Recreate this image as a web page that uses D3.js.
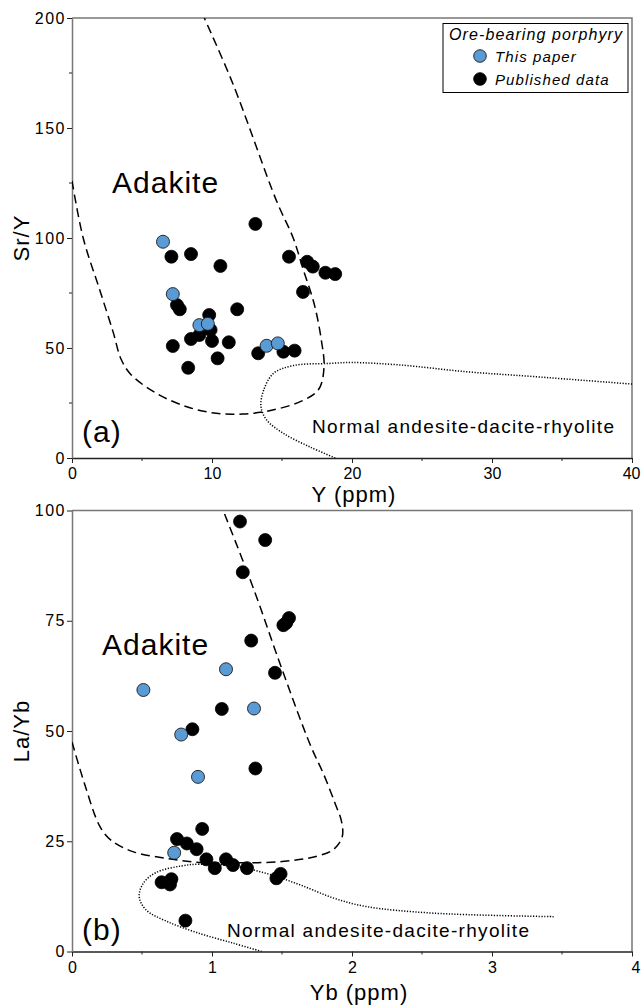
<!DOCTYPE html>
<html>
<head>
<meta charset="utf-8">
<script src="https://cdn.jsdelivr.net/npm/d3@7"></script>
<style>
  body { margin: 0; background: #fff; }
  svg text { font-family: "Liberation Sans", Arial, sans-serif; fill: #000; }
</style>
</head>
<body>
<svg id="chart" width="641" height="1005"></svg>
<script>
// ---- data: panel (a) Sr/Y vs Y ----
const thisPaperA = [
  [6.5, 98.3], [7.2, 74.5], [9.1, 60.4], [9.7, 61.0], [13.9, 51.0], [14.7, 52.1]
];
const publishedA = [
  [13.1, 106.4], [7.1, 91.5], [8.5, 92.7], [10.6, 87.3], [15.5, 91.5], [16.8, 89.2],
  [17.2, 87.0], [18.1, 84.2], [18.8, 83.6], [16.5, 75.5], [7.5, 69.5], [7.7, 67.6],
  [9.8, 65.0], [11.8, 67.6], [9.9, 58.2], [9.1, 55.9], [8.5, 54.1], [10.0, 53.2],
  [11.2, 52.6], [7.2, 50.9], [10.4, 45.3], [8.3, 41.0], [13.3, 47.6], [15.1, 48.3],
  [15.9, 48.8]
];
const adakiteFieldA = [
  [0, 126], [0.8, 100], [2, 76], [2.95, 57], [3.5, 45], [4.2, 38], [6, 29.5], [8.2, 23.3],
  [10.3, 20.3], [12.2, 20], [14.1, 21.5], [16.3, 25.6], [17.6, 31], [18, 41], [17.8, 54],
  [17.3, 70], [16.5, 86], [15.8, 100], [14.6, 117], [11.5, 170], [9.45, 200]
];
const normalFieldA = [
  [18.8, 0], [17, 5], [15.1, 11.2], [13.9, 17.3], [13.5, 23.3], [13.7, 31], [14.4, 38.5],
  [15.8, 42], [18.4, 43], [20, 43.4], [23.4, 42.3], [28.2, 39.2], [33, 37], [40, 33.6]
];
const xTicksA = [0, 10, 20, 30, 40];
const xMinorA = [5, 15, 25, 35];
const yTicksA = [0, 50, 100, 150, 200];
const yMinorA = [25, 75, 125, 175];

// ---- data: panel (b) La/Yb vs Yb ----
const thisPaperB = [
  [0.51, 59.3], [1.1, 64.0], [1.3, 55.1], [0.78, 49.2], [0.9, 39.6], [0.73, 22.4]
];
const publishedB = [
  [1.2, 97.5], [1.38, 93.3], [1.22, 86.0], [1.55, 75.6], [1.51, 74.0], [1.53, 74.5],
  [1.28, 70.5], [1.45, 63.2], [1.07, 55.0], [0.86, 50.4], [1.31, 41.5], [0.93, 27.8],
  [0.75, 25.5], [0.82, 24.5], [0.89, 23.2], [0.96, 20.9], [1.02, 18.9], [1.1, 20.9],
  [1.15, 19.6], [1.25, 18.9], [1.49, 17.6], [1.46, 16.6], [0.64, 15.7], [0.7, 15.2],
  [0.71, 16.4], [0.81, 7.0]
];
const adakiteFieldB = [
  [0, 47.5], [0.09, 38], [0.2, 28.3], [0.28, 25.2], [0.44, 22.6], [0.68, 21.1], [0.91, 20.2],
  [1.15, 20.1], [1.5, 20.4], [1.75, 21.6], [1.87, 23.2], [1.93, 26], [1.925, 29.5],
  [1.88, 33.5], [1.8, 40], [1.7, 47], [1.5, 64], [1.3, 82], [1.08, 100]
];
const normalFieldB = [
  [1.355, 0], [1.15, 1.9], [0.91, 4.1], [0.68, 6.8], [0.53, 9.4], [0.48, 12.4], [0.51, 15.5],
  [0.6, 17.9], [0.78, 19.4], [0.91, 19.8], [1.15, 19.4], [1.39, 17.7], [1.63, 15.1],
  [1.87, 12.1], [2.1, 10.2], [2.58, 8.7], [3.44, 7.9]
];
const xTicksB = [0, 1, 2, 3, 4];
const xMinorB = [0.5, 1.5, 2.5, 3.5];
const yTicksB = [0, 25, 50, 75, 100];

const legendTitle = "Ore-bearing porphyry";
const legendItems = ["This paper", "Published data"];
const blue = "#5b9bd5";

const svg = d3.select("#chart");

function drawPanel(cfg) {
  const x = d3.scaleLinear().domain(cfg.xDomain).range([72, 632]);
  const y = d3.scaleLinear().domain(cfg.yDomain).range([cfg.bottom, cfg.top]);
  const g = svg.append("g");

  const clipId = "clip-" + cfg.id;
  g.append("clipPath").attr("id", clipId)
    .append("rect").attr("x", 72).attr("y", cfg.top).attr("width", 560).attr("height", cfg.bottom - cfg.top);

  // frame (top and right in grey)
  g.append("path")
    .attr("d", `M72,${cfg.top}H632V${cfg.bottom}`)
    .attr("fill", "none").attr("stroke", "#777").attr("stroke-width", 1.5);

  // axes
  const xAxis = g.append("g").attr("transform", `translate(0,${cfg.bottom})`)
    .call(d3.axisBottom(x).tickValues(cfg.xTicks).tickFormat(d3.format("d"))
      .tickSize(5).tickSizeOuter(0));
  xAxis.select(".domain").attr("stroke", "#222").attr("stroke-width", 1.5);
  xAxis.selectAll(".tick line").attr("stroke", "#222");
  xAxis.selectAll("text").attr("font-size", 16).attr("y", 6).attr("dy", "0.95em")
    .attr("text-anchor", d => d === cfg.xTicks[cfg.xTicks.length - 1] ? "end" : "middle")
    .attr("dx", d => d === cfg.xTicks[cfg.xTicks.length - 1] ? 8 : 0);

  const yAxis = g.append("g").attr("transform", "translate(72,0)")
    .call(d3.axisLeft(y).tickValues(cfg.yTicks).tickFormat(d3.format("d"))
      .tickSize(5).tickSizeOuter(0));
  yAxis.select(".domain").attr("stroke", "#777").attr("stroke-width", 1.5);
  yAxis.selectAll(".tick line").attr("stroke", "#222");
  yAxis.selectAll("text").attr("font-size", 16).attr("x", -6).style("letter-spacing", "1.5px");

  g.append("g").selectAll("line").data(cfg.xMinor).join("line")
    .attr("x1", d => x(d)).attr("x2", d => x(d))
    .attr("y1", cfg.bottom).attr("y2", cfg.bottom + 3)
    .attr("stroke", "#222");
  g.append("g").selectAll("line").data(cfg.yMinor).join("line")
    .attr("y1", d => y(d)).attr("y2", d => y(d))
    .attr("x1", 72).attr("x2", 69)
    .attr("stroke", "#222");

  // field boundaries
  const line = d3.line().x(d => x(d[0])).y(d => y(d[1])).curve(d3.curveCatmullRom.alpha(0.5));
  const fields = g.append("g").attr("clip-path", `url(#${clipId})`);
  fields.append("path").attr("d", line(cfg.adakite))
    .attr("fill", "none").attr("stroke", "#000").attr("stroke-width", 1.5)
    .attr("stroke-dasharray", "9,5");
  fields.append("path").attr("d", line(cfg.normal))
    .attr("fill", "none").attr("stroke", "#000").attr("stroke-width", 1.5)
    .attr("stroke-dasharray", "1.2,1.6");

  // points
  g.append("g").selectAll("circle").data(cfg.published).join("circle")
    .attr("cx", d => x(d[0])).attr("cy", d => y(d[1])).attr("r", 6.5)
    .attr("fill", "#000").attr("stroke", "#000").attr("stroke-width", 0.8);
  g.append("g").selectAll("circle").data(cfg.thisPaper).join("circle")
    .attr("cx", d => x(d[0])).attr("cy", d => y(d[1])).attr("r", 6.5)
    .attr("fill", blue).attr("stroke", "#1a1a1a").attr("stroke-width", 0.9);

  // labels
  g.append("text").attr("x", cfg.adakitePos[0]).attr("y", cfg.adakitePos[1])
    .attr("font-size", 30).style("letter-spacing", "1px").text("Adakite");
  g.append("text").attr("x", 82).attr("y", cfg.panelLabelY)
    .attr("font-size", 30).style("letter-spacing", "1px").text(cfg.panelLabel);
  g.append("text").attr("x", cfg.normalPos[0]).attr("y", cfg.normalPos[1])
    .attr("font-size", 19).style("letter-spacing", "1.3px").text("Normal andesite-dacite-rhyolite");

  g.append("text").attr("x", cfg.xTitleX).attr("y", cfg.xTitleY)
    .attr("text-anchor", "middle").attr("font-size", 22).style("letter-spacing", "1px")
    .text(cfg.xTitle);
  g.append("text")
    .attr("transform", `translate(29,${(cfg.top + cfg.bottom) / 2}) rotate(-90)`)
    .attr("text-anchor", "middle").attr("font-size", 22).style("letter-spacing", "1px")
    .text(cfg.yTitle);
}

drawPanel({
  id: "a", xDomain: [0, 40], yDomain: [0, 200], top: 18, bottom: 458,
  xTicks: xTicksA, xMinor: xMinorA, yTicks: yTicksA, yMinor: yMinorA,
  adakite: adakiteFieldA, normal: normalFieldA,
  published: publishedA, thisPaper: thisPaperA,
  adakitePos: [112, 193], panelLabel: "(a)", panelLabelY: 442, normalPos: [312, 433],
  xTitle: "Y (ppm)", xTitleX: 354, xTitleY: 502, yTitle: "Sr/Y"
});

drawPanel({
  id: "b", xDomain: [0, 4], yDomain: [0, 100], top: 510.5, bottom: 951.5,
  xTicks: xTicksB, xMinor: xMinorB, yTicks: yTicksB, yMinor: [],
  adakite: adakiteFieldB, normal: normalFieldB,
  published: publishedB, thisPaper: thisPaperB,
  adakitePos: [102, 655], panelLabel: "(b)", panelLabelY: 940, normalPos: [227, 936.5],
  xTitle: "Yb (ppm)", xTitleX: 359, xTitleY: 1000, yTitle: "La/Yb"
});

// legend (panel a)
const legend = svg.append("g");
legend.append("rect").attr("x", 443).attr("y", 23.5).attr("width", 185).attr("height", 69)
  .attr("fill", "#fff").attr("stroke", "#000").attr("stroke-width", 1);
legend.append("text").attr("x", 449).attr("y", 40).attr("font-size", 16)
  .attr("font-style", "italic").style("letter-spacing", "1.1px").text(legendTitle);
legend.selectAll("g.item").data(legendItems).join("g").attr("class", "item")
  .attr("transform", (d, i) => `translate(480,${56 + i * 23})`)
  .each(function (d, i) {
    const it = d3.select(this);
    it.append("circle").attr("r", 6.3)
      .attr("fill", i === 0 ? blue : "#000").attr("stroke", i === 0 ? "#1a1a1a" : "#000")
      .attr("stroke-width", 0.9);
    it.append("text").attr("x", 15).attr("y", 5.5).attr("font-size", 15)
      .attr("font-style", "italic").style("letter-spacing", "1.1px").text(d);
  });
</script>
</body>
</html>
